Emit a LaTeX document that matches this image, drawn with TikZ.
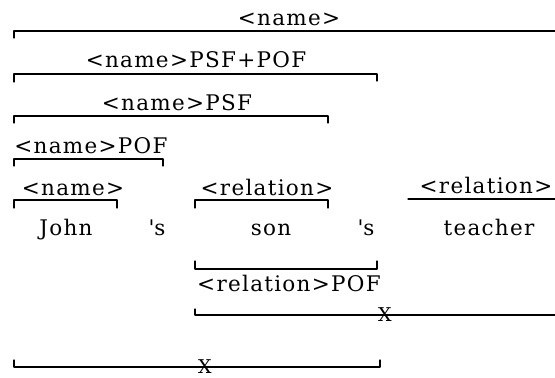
\documentclass[tikz,border=0pt]{standalone}
\usepackage{fontspec}
\newfontfamily\typed[LetterSpace=6]{DejaVu Serif}
\begin{document}
\begin{tikzpicture}[x=1pt,y=-1pt,
  lbl/.style={font=\typed\fontsize{21.5}{26}\selectfont, inner sep=0pt, anchor=base},
  crossmark/.style={font=\typed\fontsize{19}{23}\selectfont, inner sep=0pt},
  brk/.style={line width=1.2pt, line cap=round, line join=round}]
\useasboundingbox (0,0) rectangle (555,378);

% ---- labels above the words
\node[lbl] (nm)    at (289,25)  {<name>};
\node[lbl] (nmpp)  at (196,67)  {<name>PSF+POF};
\node[lbl] (nmpsf) at (177,110) {<name>PSF};
\node[lbl] (nmpof) at (91,153)  {<name>POF};
\node[lbl] (nmj)   at (73,195)  {<name>};
\node[lbl] (rels)  at (267,195) {<relation>};
\node[lbl] (relt)  at (486,193) {<relation>};

% ---- the phrase
\node[lbl] (john) at (66,235)  {John};
\node[lbl] (pa)   at (157,235) {\textquotesingle s};
\node[lbl] (son)  at (271,235) {son};
\node[lbl] (pb)   at (366,235) {\textquotesingle s};
\node[lbl] (tch)  at (489,235) {teacher};

% ---- label below the words
\node[lbl] (relpof) at (289,291) {<relation>POF};

% ---- brackets opening downward
\draw[brk] (14,38) -- (14,31) -- (555,31);
\draw[brk] (14,82) -- (14,74) -- (377,74) -- (377,81);
\draw[brk] (14,123) -- (14,116) -- (328,116) -- (328,123);
\draw[brk] (14,166) -- (14,159) -- (163,159) -- (163,166);
\draw[brk] (14,208) -- (14,200) -- (117,200) -- (117,208);
\draw[brk] (195,208) -- (195,200) -- (328,200) -- (328,208);
\draw[brk] (408,199) -- (555,199);

% ---- brackets opening upward
\draw[brk] (195,261) -- (195,269) -- (377,269) -- (377,261);
\draw[brk] (195,309) -- (195,315) -- (555,315);
\draw[brk] (14,360) -- (14,367) -- (380,367) -- (380,360);

% ---- crossings
\node[crossmark] (crossa) at (385,315) {X};
\node[crossmark] (crossb) at (205,367) {X};
\end{tikzpicture}
\end{document}
